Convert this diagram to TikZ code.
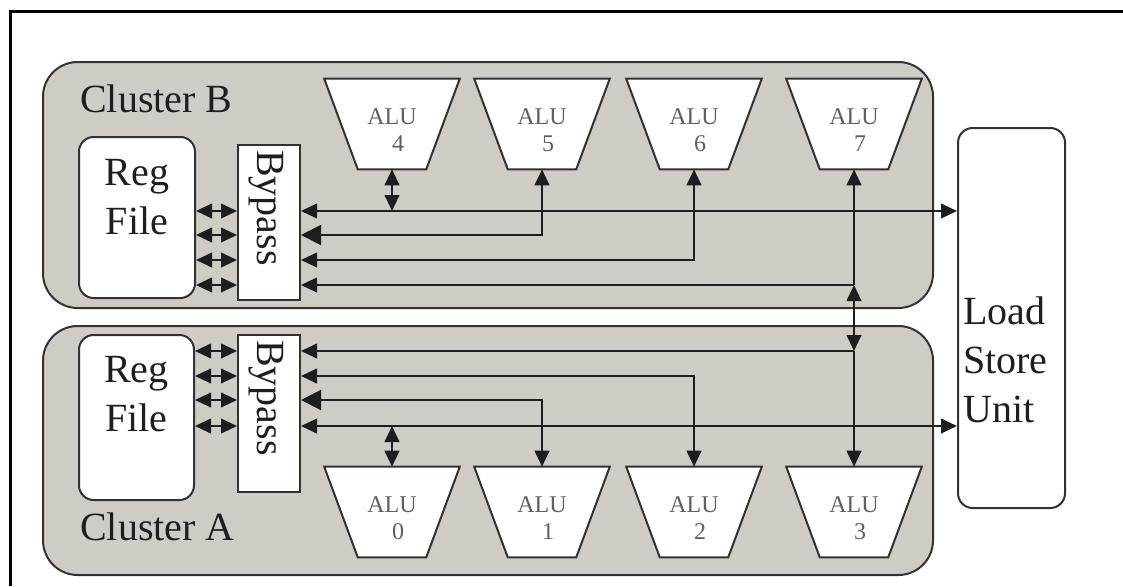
\documentclass[tikz,border=0pt]{standalone}
\usepackage{fontspec}
\setmainfont{Liberation Serif}
\usetikzlibrary{arrows.meta,calc}
\definecolor{clfill}{RGB}{207,204,198}
\definecolor{edge}{RGB}{50,50,50}
\definecolor{ink}{RGB}{30,30,30}
\definecolor{alutext}{RGB}{95,95,95}
\begin{document}
\begin{tikzpicture}[x=0.75pt,y=-0.75pt,
  >={Triangle[length=12pt,width=11pt]},
  sz/.style 2 args={minimum width=#1*0.75pt, minimum height=#2*0.75pt},
  cluster/.style={draw=edge, line width=1.5pt, fill=clfill, rounded corners=26pt, inner sep=0pt},
  box/.style={draw=edge, line width=1.5pt, fill=white, inner sep=0pt},
  roundbox/.style={box, rounded corners=11pt},
  alubase/.style={draw=none, inner sep=0pt, sz={135}{90}},
  conn/.style={draw=ink, line width=1.5pt},
  bigin/.style={{Triangle[length=15pt,width=15pt]}->},
  lbl/.style={font=\fontsize{30}{36.75}\selectfont, text=ink, inner sep=0pt},
  alut/.style={font=\fontsize{18}{20.25}\selectfont, text=alutext, inner sep=0pt, align=center}
]
\useasboundingbox (0,0) rectangle (1123,586);
\draw[line width=2.25pt, black] (1123,11) -- (10,11) -- (10,586);

% clusters
\node[cluster, sz={890}{246}] (clB) at (488,185) {};
\node[cluster, sz={890}{249}] (clA) at (488,450.5) {};

% register files, bypass, load/store unit
\node[roundbox, sz={116}{161}] (regB) at (137,217.5) {};
\node[roundbox, sz={115}{165}] (regA) at (136.5,417.5) {};
\node[box, sz={62}{155}] (bypB) at (269,222.5) {};
\node[box, sz={62}{157}] (bypA) at (269,413.5) {};
\node[roundbox, sz={107}{380}] (lsu) at (1011.5,318) {};

% ALUs
\foreach \i/\x/\y in {4/392/124,5/542/124,6/694/124,7/854/124,0/392/512,1/542/512,2/694/512,3/854/512}{
  \node[alubase] (alu\i) at (\x,\y) {};
  \draw[box] (alu\i.north west) -- (alu\i.north east) -- ([xshift=-25.125pt]alu\i.south east) -- ([xshift=25.125pt]alu\i.south west) -- cycle;
  \node[alut, anchor=north] (alut\i) at ([yshift=-22pt]alu\i.north) {ALU\\\hspace*{0.5em}\i};
}

% labels
\node[lbl, anchor=base west] (labB) at (80,112) {Cluster B};
\node[lbl, anchor=base west] (labA) at (80,540) {Cluster A};
\node[lbl, align=center, anchor=north] (regBt) at (regB.north |- 0,159) {Reg\\File};
\node[lbl, align=center, anchor=north] (regAt) at (regA.north |- 0,356) {Reg\\File};
\node[lbl, rotate=-90, anchor=base west] (bypBt) at (257,150) {Bypass};
\node[lbl, rotate=-90, anchor=base west] (bypAt) at (257,340) {Bypass};
\node[lbl, align=left, anchor=north west] (lsut) at (963,296) {Load\\Store\\Unit};

% bus levels
\coordinate (yb1) at (0,211);
\coordinate (yb2) at (0,235);
\coordinate (yb3) at (0,260);
\coordinate (yb4) at (0,285);
\coordinate (ya1) at (0,351);
\coordinate (ya2) at (0,376);
\coordinate (ya3) at (0,400);
\coordinate (ya4) at (0,426);

% register file <-> bypass
\foreach \k in {1,...,4}{
  \draw[conn,<->] (regB.east |- yb\k) -- (bypB.west |- yb\k);
  \draw[conn,<->] (regA.east |- ya\k) -- (bypA.west |- ya\k);
}

% cluster B buses
\draw[conn,<->] (bypB.east |- yb1) -- (lsu.west |- yb1);
\draw[conn,<->] (alu4.south) -- (alu4.south |- yb1);
\draw[conn,bigin] (bypB.east |- yb2) -| (alu5.south);
\draw[conn,<->] (bypB.east |- yb3) -| (alu6.south);
\coordinate (jB) at (alu7.south |- yb4);
\coordinate (jA) at (alu3.north |- ya1);
\draw[conn,<-] (bypB.east |- yb4) -- (jB);
\draw[conn,->] (jB) -- (alu7.south);
\draw[conn,<->] (jB) -- (jA);

% cluster A buses
\draw[conn,<-] (bypA.east |- ya1) -- (jA);
\draw[conn,->] (jA) -- (alu3.north);
\draw[conn,<->] (bypA.east |- ya2) -| (alu2.north);
\draw[conn,bigin] (bypA.east |- ya3) -| (alu1.north);
\draw[conn,<->] (bypA.east |- ya4) -- (lsu.west |- ya4);
\draw[conn,<->] (alu0.north) -- (alu0.north |- ya4);
\end{tikzpicture}
\end{document}
